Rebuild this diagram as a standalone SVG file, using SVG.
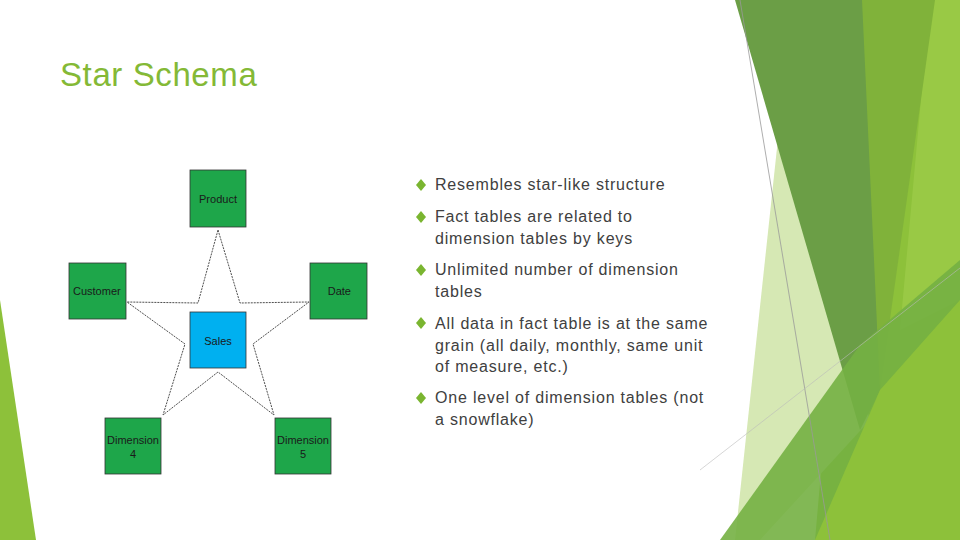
<svg xmlns="http://www.w3.org/2000/svg" width="960" height="540" viewBox="0 0 960 540">
<style>
.box{fill:#1ea64a;stroke:#333;stroke-width:0.8}
.lbl{font-family:"Liberation Sans",Arial,sans-serif;font-size:11px;fill:#1a1a1a}
.bt{font-family:"Liberation Sans",Arial,sans-serif;font-size:16px;letter-spacing:0.8px;fill:#404040}
.dia{fill:#7ab530}
</style>
<rect width="960" height="540" fill="#fff"/>
<g id="decor">
<polygon points="0,300 36,540 0,540" fill="#8dc13a"/>
<polygon points="862,0 960,0 960,540 815,540" fill="#8dc13a"/>
<polygon points="930,0 960,0 960,300 900,330" fill="#9ccb48" opacity="0.8"/>
<polygon points="780,120 870,420 760,540 735,540" fill="#d6e8b4"/>
<polygon points="735,0 865,0 880,390 860,430" fill="#6b9e46"/>
<polygon points="862,0 935,0 880,390" fill="#80b23a"/>
<polygon points="720,540 860,345 960,260 960,540" fill="#74b043" opacity="0.9"/>
<polygon points="815,540 880,390 960,300 960,540" fill="#8dc13a"/>
<line x1="740" y1="0" x2="830" y2="540" stroke="#999" stroke-width="0.8"/>
<line x1="700" y1="470" x2="960" y2="268" stroke="#bbb" stroke-width="0.6"/>
</g>
<text x="60" y="86" font-family="Liberation Sans,Arial,sans-serif" font-size="33" letter-spacing="0.6" fill="#84b936">Star Schema</text>
<g id="connectors">
<path d="M218,230 L240,303 L309,302 L253,344 L274,415 L218,372 L163,415 L185,344 L127,302 L198,303 Z" fill="none" stroke="#222" stroke-width="0.8" stroke-dasharray="2,1"/>
</g>
<g id="product"><rect class="box" x="190" y="170" width="56" height="57"/><text class="lbl" x="218" y="203" text-anchor="middle">Product</text></g>
<g id="customer"><rect class="box" x="69" y="263" width="57" height="56"/><text class="lbl" x="73" y="295">Customer</text></g>
<g id="date"><rect class="box" x="310" y="263" width="57" height="56"/><text class="lbl" x="351" y="295" text-anchor="end">Date</text></g>
<g id="sales"><rect x="190" y="312" width="56" height="56" fill="#00b0f0" stroke="#333" stroke-width="0.8"/><text class="lbl" x="218" y="345" text-anchor="middle" font-size="12">Sales</text></g>
<g id="dim4"><rect class="box" x="105" y="418" width="56" height="56"/><text class="lbl" x="133" y="444" text-anchor="middle">Dimension</text><text class="lbl" x="133" y="458" text-anchor="middle">4</text></g>
<g id="dim5"><rect class="box" x="275" y="418" width="56" height="56"/><text class="lbl" x="303" y="444" text-anchor="middle">Dimension</text><text class="lbl" x="303" y="458" text-anchor="middle">5</text></g>
<g id="bullets">
<g class="dia">
<polygon points="421,179 426,185 421,191 416,185"/>
<polygon points="421,211 426,217 421,223 416,217"/>
<polygon points="421,264 426,270 421,276 416,270"/>
<polygon points="421,317 426,323 421,329 416,323"/>
<polygon points="421,392 426,398 421,404 416,398"/>
</g>
<text class="bt" x="435" y="190">Resembles star-like structure</text>
<text class="bt" x="435" y="222">Fact tables are related to</text>
<text class="bt" x="435" y="244">dimension tables by keys</text>
<text class="bt" x="435" y="275">Unlimited number of dimension</text>
<text class="bt" x="435" y="297">tables</text>
<text class="bt" x="435" y="329">All data in fact table is at the same</text>
<text class="bt" x="435" y="351">grain (all daily, monthly, same unit</text>
<text class="bt" x="435" y="372">of measure, etc.)</text>
<text class="bt" x="435" y="403">One level of dimension tables (not</text>
<text class="bt" x="435" y="425">a snowflake)</text>
</g>
</svg>
